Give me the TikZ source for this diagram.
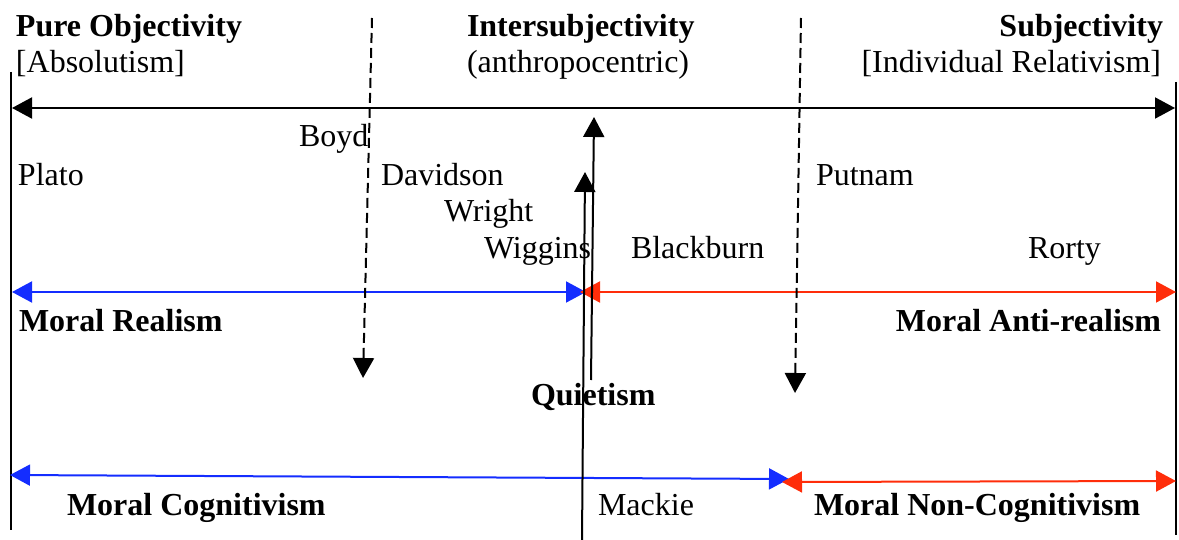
\documentclass[tikz,border=0pt]{standalone}
\usepackage{fontspec}
\setmainfont{Liberation Serif}
\usetikzlibrary{arrows.meta}
\definecolor{realblue}{RGB}{20,45,255}
\definecolor{antired}{RGB}{255,45,10}
\tikzset{
  lbl/.style={inner sep=0pt, anchor=base west, font=\fontsize{16}{19}\selectfont},
  bold/.style={lbl, font=\fontsize{16}{19}\selectfont\bfseries},
  tri/.style={-{Triangle[length=10pt,width=10.5pt]}},
  dtri/.style={{Triangle[length=10pt,width=10.5pt]}-{Triangle[length=10pt,width=10.5pt]}}
}
\begin{document}
\begin{tikzpicture}[x=0.5pt,y=-0.5pt,line width=1pt]
\useasboundingbox (0,0) rectangle (1179,540);

\coordinate (lt) at (11,72);
\coordinate (lb) at (11,530);
\coordinate (rt) at (1176,82);
\coordinate (rb) at (1176,535);
\draw (lt) -- (lb);
\draw (rt) -- (rb);

\coordinate (top1) at (12,108);
\coordinate (top2) at (1175,108);
\draw [dtri](top1) -- (top2);

\coordinate (re1) at (12,292);
\coordinate (re2) at (586,292);
\coordinate (ar1) at (580,292);
\coordinate (ar2) at (1176,292);
\draw [dtri, realblue](re1) -- (re2);
\draw [dtri, antired](ar2) -- (ar1);

\coordinate (co1) at (10,475);
\coordinate (co2) at (789,479);
\coordinate (nc1) at (782,482);
\coordinate (nc2) at (1176,481);
\draw [dtri, realblue](co1) -- (co2);
\draw [dtri, antired](nc2) -- (nc1);

\coordinate (q1) at (582,540);
\coordinate (q2) at (585,172);
\coordinate (q3) at (591,380);
\coordinate (q4) at (594,117);
\draw [tri](q1) -- (q2);
\draw [tri](q3) -- (q4);

\coordinate (d1) at (372,18);
\coordinate (d2) at (363,378);
\coordinate (d3) at (801,18);
\coordinate (d4) at (795,393);
\draw [tri, dash pattern=on 5pt off 2.5pt](d1) -- (d2);
\draw [tri, dash pattern=on 5pt off 2.5pt](d3) -- (d4);

\node [bold] (pureobj) at (15,37) {Pure Objectivity};
\node [lbl] (absol) at (15,73) {[Absolutism]};
\node [bold] (intersub) at (466,37) {Intersubjectivity};
\node [lbl] (anthro) at (466,73) {(anthropocentric)};
\node [bold, anchor=base east] (subj) at (1164,37) {Subjectivity};
\node [lbl, anchor=base east] (indrel) at (1162,73) {[Individual Relativism]};

\node [lbl] (boyd) at (298,147) {Boyd};
\node [lbl] (plato) at (17,185) {Plato};
\node [lbl] (davidson) at (380,185) {Davidson};
\node [lbl] (putnam) at (815,185) {Putnam};
\node [lbl] (wright) at (443,221) {Wright};
\node [lbl] (wiggins) at (483,258) {Wiggins};
\node [lbl] (blackburn) at (630,258) {Blackburn};
\node [lbl] (rorty) at (1027,258) {Rorty};

\node [bold] (realism) at (18,331) {Moral Realism};
\node [bold, anchor=base east] (antireal) at (1162,331) {Moral Anti-realism};
\node [bold] (quiet) at (530,405) {Quietism};
\node [bold] (cognit) at (66,515) {Moral Cognitivism};
\node [lbl] (mackie) at (597,515) {Mackie};
\node [bold] (noncog) at (813,515) {Moral Non-Cognitivism};
\end{tikzpicture}
\end{document}
